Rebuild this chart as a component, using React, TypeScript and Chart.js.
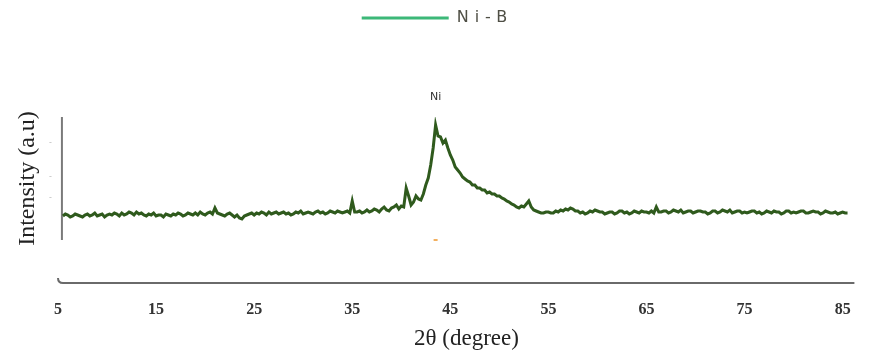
import React, { useEffect, useRef } from 'react';
import { Chart, registerables } from 'chart.js';

Chart.register(...registerables);

const seriesLabel = 'Ni-B';
const peakLabel = 'Ni';
const xTitle = '2θ (degree)';
const yTitle = 'Intensity (a.u)';
const xTickValues = [5, 15, 25, 35, 45, 55, 65, 75, 85];
const yMarkValues = [97, 63, 42];

const twoTheta = [
  5.5, 5.75, 6, 6.25, 6.5, 6.75, 7, 7.25, 7.5, 7.75, 8, 8.25, 8.5, 8.75, 9, 9.25, 9.5, 9.75, 10, 10.25,
  10.5, 10.75, 11, 11.25, 11.5, 11.75, 12, 12.25, 12.5, 12.75, 13, 13.25, 13.5, 13.75, 14, 14.25, 14.5, 14.75, 15, 15.25,
  15.5, 15.75, 16, 16.25, 16.5, 16.75, 17, 17.25, 17.5, 17.75, 18, 18.25, 18.5, 18.75, 19, 19.25, 19.5, 19.75, 20, 20.25,
  20.5, 20.75, 21, 21.25, 21.5, 21.75, 22, 22.25, 22.5, 22.75, 23, 23.25, 23.5, 23.75, 24, 24.25, 24.5, 24.75, 25, 25.25,
  25.5, 25.75, 26, 26.25, 26.5, 26.75, 27, 27.25, 27.5, 27.75, 28, 28.25, 28.5, 28.75, 29, 29.25, 29.5, 29.75, 30, 30.25,
  30.5, 30.75, 31, 31.25, 31.5, 31.75, 32, 32.25, 32.5, 32.75, 33, 33.25, 33.5, 33.75, 34, 34.25, 34.5, 34.75, 35, 35.25,
  35.5, 35.75, 36, 36.25, 36.5, 36.75, 37, 37.25, 37.5, 37.75, 38, 38.25, 38.5, 38.75, 39, 39.25, 39.5, 39.75, 40, 40.25,
  40.5, 40.75, 41, 41.25, 41.5, 41.75, 42, 42.25, 42.5, 42.75, 43, 43.25, 43.5, 43.75, 44, 44.25, 44.5, 44.75, 45, 45.25,
  45.5, 45.75, 46, 46.25, 46.5, 46.75, 47, 47.25, 47.5, 47.75, 48, 48.25, 48.5, 48.75, 49, 49.25, 49.5, 49.75, 50, 50.25,
  50.5, 50.75, 51, 51.25, 51.5, 51.75, 52, 52.25, 52.5, 52.75, 53, 53.25, 53.5, 53.75, 54, 54.25, 54.5, 54.75, 55, 55.25,
  55.5, 55.75, 56, 56.25, 56.5, 56.75, 57, 57.25, 57.5, 57.75, 58, 58.25, 58.5, 58.75, 59, 59.25, 59.5, 59.75, 60, 60.25,
  60.5, 60.75, 61, 61.25, 61.5, 61.75, 62, 62.25, 62.5, 62.75, 63, 63.25, 63.5, 63.75, 64, 64.25, 64.5, 64.75, 65, 65.25,
  65.5, 65.75, 66, 66.25, 66.5, 66.75, 67, 67.25, 67.5, 67.75, 68, 68.25, 68.5, 68.75, 69, 69.25, 69.5, 69.75, 70, 70.25,
  70.5, 70.75, 71, 71.25, 71.5, 71.75, 72, 72.25, 72.5, 72.75, 73, 73.25, 73.5, 73.75, 74, 74.25, 74.5, 74.75, 75, 75.25,
  75.5, 75.75, 76, 76.25, 76.5, 76.75, 77, 77.25, 77.5, 77.75, 78, 78.25, 78.5, 78.75, 79, 79.25, 79.5, 79.75, 80, 80.25,
  80.5, 80.75, 81, 81.25, 81.5, 81.75, 82, 82.25, 82.5, 82.75, 83, 83.25, 83.5, 83.75, 84, 84.25, 84.5, 84.75, 85, 85.25, 85.5,
];

const intensity = [
  24, 26, 25, 23, 24, 26, 25, 24, 23, 25, 26, 24, 25, 27, 24, 25, 26, 23, 25, 26,
  25, 27, 26, 24, 27, 25, 26, 28, 27, 25, 28, 26, 27, 25, 24, 26, 25, 27, 24, 25,
  25, 23, 26, 25, 24, 26, 25, 27, 26, 24, 25, 27, 26, 25, 27, 25, 28, 26, 25, 27,
  28, 26, 32, 27, 26, 25, 24, 26, 27, 25, 23, 25, 22, 21, 24, 25, 26, 27, 25, 27,
  26, 28, 27, 25, 28, 26, 27, 28, 26, 27, 28, 26, 27, 25, 26, 28, 27, 29, 26, 27,
  28, 27, 26, 28, 29, 27, 28, 26, 27, 29, 28, 27, 29, 28, 27, 28, 29, 27, 39, 28,
  28, 29, 27, 28, 30, 28, 29, 31, 30, 28, 31, 33, 30, 29, 32, 33, 35, 31, 34, 33,
  52, 44, 35, 38, 44, 41, 40, 46, 55, 62, 75, 92, 115, 104, 103, 97, 100, 92, 85, 80,
  73, 70, 67, 63, 61, 59, 58, 55, 55, 52, 52, 50, 50, 47, 48, 46, 46, 44, 44, 42,
  41, 39, 38, 36, 35, 33, 32, 34, 33, 36, 39, 33, 30, 29, 28, 27, 27, 28, 28, 27,
  27, 29, 28, 30, 29, 31, 30, 32, 31, 29, 29, 27, 28, 26, 27, 29, 28, 30, 29, 28,
  28, 26, 27, 28, 28, 26, 27, 29, 29, 27, 28, 26, 27, 29, 28, 27, 29, 28, 28, 27,
  29, 27, 33, 28, 28, 29, 29, 27, 28, 30, 29, 28, 30, 27, 28, 29, 29, 27, 28, 29,
  29, 28, 28, 26, 27, 29, 29, 27, 28, 30, 29, 28, 30, 27, 28, 29, 29, 27, 28, 27,
  28, 29, 29, 27, 28, 26, 27, 29, 28, 27, 29, 28, 28, 26, 27, 29, 29, 27, 28, 27,
  28, 29, 29, 27, 27, 28, 29, 28, 28, 26, 27, 29, 28, 27, 27, 28, 26, 27, 28, 27, 27,
];

const X_MIN = 5;
const X_MAX = 88.3;
const Y_MIN = 0;
const Y_MAX = 123;
const Y_AXIS_AT = 5.4;
const X_AXIS_END = 86.2;

const decorPlugin = {
  id: 'decor',
  beforeLayout(chart: any) {
    const lg = chart.legend;
    if (lg && !lg.__patched) {
      lg.__patched = true;
      const fit = lg.fit.bind(lg);
      const draw = lg.draw.bind(lg);
      lg.fit = function () {
        const c = chart.ctx;
        c.save();
        c.letterSpacing = '6px';
        fit();
        c.restore();
        this.height = 117;
      };
      lg.draw = function () {
        const c = chart.ctx;
        c.save();
        c.letterSpacing = '6px';
        draw();
        c.restore();
      };
    }
  },
  beforeDatasetsDraw(chart: any) {
    const { ctx, chartArea, scales } = chart;
    const x = scales.x;
    const y = scales.y;
    ctx.save();
    ctx.strokeStyle = '#7a7a7a';
    ctx.lineWidth = 2;
    const yx = x.getPixelForValue(Y_AXIS_AT);
    ctx.beginPath();
    ctx.moveTo(yx, y.getPixelForValue(Y_MAX));
    ctx.lineTo(yx, y.getPixelForValue(Y_MIN));
    ctx.stroke();
    const ay = chartArea.bottom + 43;
    const x0 = x.getPixelForValue(X_MIN);
    ctx.strokeStyle = '#6a6a6a';
    ctx.beginPath();
    ctx.moveTo(x0, ay - 5);
    ctx.quadraticCurveTo(x0, ay, x0 + 5, ay);
    ctx.lineTo(x.getPixelForValue(X_AXIS_END), ay);
    ctx.stroke();
    ctx.restore();
  },
  afterDatasetsDraw(chart: any) {
    const { ctx, scales } = chart;
    const x = scales.x;
    const y = scales.y;
    let maxI = 0;
    for (let i = 1; i < intensity.length; i++) if (intensity[i] > intensity[maxI]) maxI = i;
    const px = x.getPixelForValue(twoTheta[maxI]);
    const py = y.getPixelForValue(intensity[maxI]);
    ctx.save();
    ctx.fillStyle = '#333';
    ctx.font = '11px "DejaVu Sans", sans-serif';
    ctx.textAlign = 'center';
    ctx.textBaseline = 'middle';
    ctx.fillText(peakLabel, px, py - 28);
    ctx.fillStyle = '#f3b060';
    ctx.fillRect(px - 2, y.getPixelForValue(Y_MIN) - 1, 4, 2);
    ctx.restore();
  },
};

export default function App() {
  const ref = useRef<HTMLCanvasElement | null>(null);

  useEffect(() => {
    if (!ref.current) return;
    const points = twoTheta.map((t, i) => ({ x: t, y: intensity[i] }));
    const chart = new Chart(ref.current, {
      type: 'line',
      data: {
        datasets: [
          {
            label: seriesLabel,
            data: points,
            borderColor: '#2f5a1d',
            backgroundColor: '#3cb878',
            borderWidth: 3,
            pointRadius: 0,
            tension: 0,
            fill: false,
          },
        ],
      },
      options: {
        animation: false,
        responsive: false,
        maintainAspectRatio: false,
        layout: { padding: 0 },
        plugins: {
          tooltip: { enabled: false },
          legend: {
            display: true,
            position: 'top',
            labels: {
              boxWidth: 87,
              boxHeight: 3,
              padding: 10,
              color: '#4f4f45',
              font: { family: '"DejaVu Sans", sans-serif', size: 16 },
              generateLabels: () => [
                {
                  text: seriesLabel,
                  fillStyle: '#3cb878',
                  strokeStyle: '#3cb878',
                  lineWidth: 0,
                  hidden: false,
                  datasetIndex: 0,
                  fontColor: '#4f4f45',
                } as any,
              ],
            },
          },
        },
        scales: {
          x: {
            type: 'linear',
            min: X_MIN,
            max: X_MAX,
            border: { display: false },
            grid: { display: false, drawTicks: false },
            afterBuildTicks: (s: any) => {
              s.ticks = xTickValues.map((v) => ({ value: v }));
            },
            afterFit: (s: any) => {
              s.height = 116;
              s.paddingLeft = 0;
              s.paddingRight = 0;
            },
            ticks: {
              padding: 60,
              maxRotation: 0,
              autoSkip: false,
              color: '#333',
              font: { family: '"Liberation Serif", serif', size: 16, weight: 'bold' },
            },
            title: {
              display: true,
              text: xTitle,
              color: '#222',
              font: { family: '"Liberation Serif", serif', size: 23 },
              padding: { top: 0, bottom: 3 },
            },
          },
          y: {
            type: 'linear',
            min: Y_MIN,
            max: Y_MAX,
            border: { display: false },
            grid: { display: false, drawTicks: false },
            afterBuildTicks: (s: any) => {
              s.ticks = yMarkValues.map((v) => ({ value: v }));
            },
            afterFit: (s: any) => {
              s.width = 58;
            },
            ticks: {
              padding: 6,
              color: '#bbbbbb',
              font: { family: '"DejaVu Sans", sans-serif', size: 8 },
              callback: () => '-',
            },
            title: {
              display: true,
              text: yTitle,
              color: '#222',
              font: { family: '"Liberation Serif", serif', size: 24 },
              padding: { top: 13, bottom: 0 },
            },
          },
        },
      },
      plugins: [decorPlugin],
    });
    return () => chart.destroy();
  }, []);

  return (
    <div style={{ position: 'absolute', left: 0, top: 0, width: 875, height: 356, background: '#fff' }}>
      <canvas ref={ref} width={875} height={356} style={{ width: 875, height: 356, display: 'block' }} />
    </div>
  );
}
